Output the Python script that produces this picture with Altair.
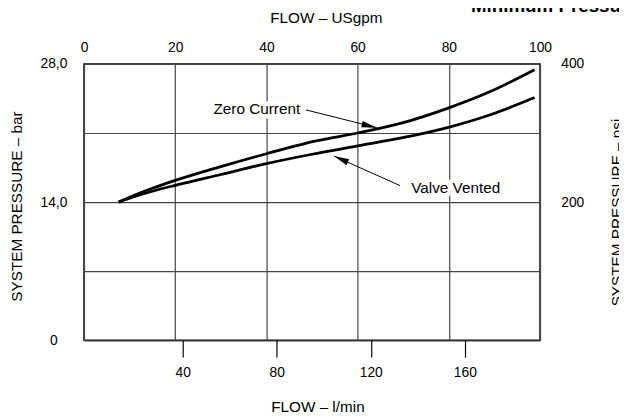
import altair as alt
import pandas as pd

FONT = "Liberation Sans"

# ---- values ----
series_names = ["Zero Current", "Valve Vented"]

zero_gpm = [7.6, 10, 15, 20, 30, 40, 50.9, 60, 69.6, 79.7, 89.1, 98.8]
zero_bar = [14.0, 14.5, 15.4, 16.2, 17.6, 18.9, 20.2, 21.0, 22.0, 23.5, 25.2, 27.4]

vent_gpm = [7.6, 10, 15, 20, 30, 40, 50, 60, 69.6, 79.7, 89.1, 98.8]
vent_bar = [14.0, 14.4, 15.1, 15.7, 16.8, 17.9, 18.85, 19.7, 20.5, 21.55, 22.85, 24.6]

gpm_ticks = [0, 20, 40, 60, 80, 100]
lpm_ticks = [40, 80, 120, 160]
bar_ticks = [0, 7, 14, 21, 28]
psi_ticks = [200, 400]

gpm_domain = [0, 100]
lpm_domain = [-2, 192]
bar_domain = [0, 28]
psi_domain = [0, 400]

# annotations (label anchor, arrow start, arrow tip, arrow direction)
label_gpm = [37.9, 81.5]
label_bar = [22.94, 14.94]
arrow_from_gpm = [48.7, 69.3]
arrow_from_bar = [23.34, 15.67]
arrow_to_gpm = [64.2, 54.8]
arrow_to_bar = [21.54, 18.67]
arrow_angle = [13.9, 204.2]

# ---- tables ----
curves = pd.DataFrame({
    "series": [series_names[0]] * len(zero_gpm) + [series_names[1]] * len(vent_gpm),
    "gpm": zero_gpm + vent_gpm,
    "bar": zero_bar + vent_bar,
})
ann = pd.DataFrame({
    "label": series_names,
    "gpm": label_gpm,
    "bar": label_bar,
    "x0": arrow_from_gpm,
    "y0": arrow_from_bar,
    "x1": arrow_to_gpm,
    "y1": arrow_to_bar,
    "angle": arrow_angle,
})

X_GPM = alt.Scale(domain=gpm_domain, nice=False, zero=False)
Y_BAR = alt.Scale(domain=bar_domain, nice=False, zero=False)

lines = alt.Chart(curves).mark_line(
    interpolate="monotone", color="black", strokeWidth=2.8
).encode(
    x=alt.X("gpm:Q", scale=X_GPM, axis=alt.Axis(
        orient="top", values=gpm_ticks, title="FLOW – USgpm",
        grid=True, gridColor="#444", gridWidth=1.2,
        ticks=False, tickSize=0, domain=False,
        labelPadding=13, labelBaseline="alphabetic", labelFlush=False,
        titleX=245, titleY=-42, titleAlign="center", titleBaseline="alphabetic")),
    y=alt.Y("bar:Q", scale=Y_BAR, axis=alt.Axis(
        orient="left", values=bar_ticks,
        labelExpr="datum.value % 14 != 0 ? '' : (datum.value == 0 ? '0' : replace(format(datum.value, '.1f'), '.', ','))",
        title="SYSTEM PRESSURE – bar",
        grid=True, gridColor="#444", gridWidth=1.2,
        ticks=False, tickSize=0, domain=False, labelOverlap=False,
        labelAlign="center", labelPadding=31, labelBaseline="middle",
        titleAngle=270, titleX=-63, titleY=144, titleAlign="center",
        titleBaseline="alphabetic")),
    detail="series:N",
)

halo = alt.Chart(ann).mark_text(
    font=FONT, fontSize=15.5, align="center", baseline="alphabetic",
    fill="white", stroke="white", strokeWidth=9, strokeJoin="round",
).encode(
    x=alt.X("gpm:Q", scale=X_GPM, axis=None),
    y=alt.Y("bar:Q", scale=Y_BAR, axis=None),
    text="label:N",
)
labels = alt.Chart(ann).mark_text(
    font=FONT, fontSize=15.5, align="center", baseline="alphabetic", color="black",
).encode(
    x=alt.X("gpm:Q", scale=X_GPM, axis=None),
    y=alt.Y("bar:Q", scale=Y_BAR, axis=None),
    text="label:N",
)
arrow_lines = alt.Chart(ann).mark_rule(color="black", strokeWidth=1).encode(
    x=alt.X("x0:Q", scale=X_GPM, axis=None), x2="x1:Q",
    y=alt.Y("y0:Q", scale=Y_BAR, axis=None), y2="y1:Q",
)
arrow_heads = alt.Chart(ann).mark_point(
    shape="M0,0L-2,-0.42L-2,0.42Z", filled=True, size=240,
    color="black", opacity=1, strokeWidth=0,
).encode(
    x=alt.X("x1:Q", scale=X_GPM, axis=None),
    y=alt.Y("y1:Q", scale=Y_BAR, axis=None),
    angle=alt.Angle("angle:Q", scale=None),
)

bottom_axis = alt.Chart(pd.DataFrame({"lpm": lpm_ticks})).mark_point(opacity=0).encode(
    x=alt.X("lpm:Q", scale=alt.Scale(domain=lpm_domain, nice=False, zero=False),
            axis=alt.Axis(orient="bottom", values=lpm_ticks, title="FLOW – l/min",
                          grid=False, ticks=True, tickSize=17, tickColor="black",
                          tickWidth=1.2, domain=False, labelPadding=9,
                          titleX=236.5, titleY=72, titleAlign="center",
                          titleBaseline="alphabetic")),
)
right_axis = alt.Chart(pd.DataFrame({"psi": psi_ticks})).mark_point(opacity=0).encode(
    y=alt.Y("psi:Q", scale=alt.Scale(domain=psi_domain, nice=False, zero=False),
            axis=alt.Axis(orient="right", values=psi_ticks, title="SYSTEM PRESSURE – psi",
                          grid=False, ticks=False, tickSize=0, domain=False,
                          labelAlign="left", labelPadding=21, labelBaseline="middle",
                          titleAngle=270, titleX=83, titleY=150, titleAlign="center",
                          titleBaseline="alphabetic")),
)

chart = alt.layer(
    lines, halo, labels, arrow_lines, arrow_heads, bottom_axis, right_axis
).resolve_scale(
    x="independent", y="independent"
).properties(
    width=462, height=280,
    padding={"left": 77, "top": 54, "right": 80, "bottom": 72},
    autosize=alt.AutoSizeParams(type="none"),
    title=alt.TitleParams(
        text="Minimum Pressure", anchor="start", frame="group", orient="top",
        dx=392, dy=20, offset=0, fontSize=19, fontWeight="bold", font=FONT,
        color="black", baseline="alphabetic"),
).configure_view(
    stroke="black", strokeWidth=1.5
).configure_axis(
    labelFont=FONT, titleFont=FONT, labelFontSize=14, titleFontSize=15.5,
    labelColor="black", titleColor="black", titleFontWeight="normal",
)

chart.save("out.html", embed_options={"renderer": "svg", "actions": False})
